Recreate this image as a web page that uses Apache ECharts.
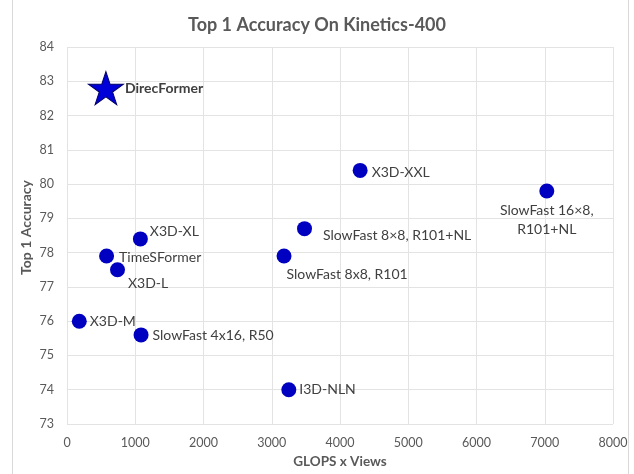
<!DOCTYPE html>
<html>
<head>
<meta charset="utf-8">
<script src="https://cdn.jsdelivr.net/npm/echarts@6/dist/echarts.min.js"></script>
<style>
  html, body { margin: 0; padding: 0; background: #fff; }
  #chart { width: 634px; height: 474px; }
</style>
</head>
<body>
<div id="chart"></div>
<script>
  // model names and their (GFLOPs x views, top-1 accuracy)
  var names = ['X3D-M', 'TimeSFormer', 'X3D-L', 'X3D-XL', 'SlowFast 4x16, R50',
    'SlowFast 8x8, R101', 'SlowFast 8×8, R101+NL', 'X3D-XXL', 'SlowFast 16×8,\nR101+NL', 'I3D-NLN']
  var flops = [180, 580, 740, 1075, 1085, 3180, 3480, 4295, 7030, 3250]
  var acc = [76.0, 77.9, 77.5, 78.4, 75.6, 77.9, 78.7, 80.4, 79.8, 74.0]

  var oursName = 'DirecFormer'
  var oursFlops = 570
  var oursAcc = 82.8

  var xTicks = [0, 8000, 1000]
  var yTicks = [73, 84, 1]

  // where each label sits next to its dot
  var labelLayout = {
    'X3D-M': { distance: 3, offset: [0, 0] },
    'TimeSFormer': { distance: 5, offset: [0, 1] },
    'X3D-L': { distance: 3, offset: [0, 14] },
    'X3D-XL': { distance: 2, offset: [0, -7] },
    'SlowFast 4x16, R50': { distance: 4, offset: [0, 1] },
    'SlowFast 8x8, R101': { distance: 0, offset: [-5, 18] },
    'SlowFast 8×8, R101+NL': { distance: 11, offset: [0, 7] },
    'X3D-XXL': { distance: 4, offset: [0, 2] },
    'SlowFast 16×8,\nR101+NL': { position: 'bottom', distance: 3, offset: [0, 0] },
    'I3D-NLN': { distance: 3, offset: [0, 0] }
  }

  var myChart = echarts.init(document.getElementById('chart'))

  var pts = names.map(function (n, i) {
    var lay = labelLayout[n]
    return {
      name: n,
      value: [flops[i], acc[i]],
      label: {
        position: lay.position || 'right',
        distance: lay.distance,
        offset: lay.offset,
        align: lay.position == 'bottom' ? 'center' : 'left'
      }
    }
  })

  var option = {
    animation: false,
    textStyle: { fontFamily: 'Lato' },
    title: {
      text: 'Top 1 Accuracy On Kinetics-400',
      left: 'center',
      top: 11,
      textStyle: { fontFamily: 'Lato', fontSize: 18, fontWeight: 'bold', color: '#595959' }
    },
    grid: { left: 67, right: 21, top: 47, bottom: 49 },
    xAxis: {
      type: 'value',
      min: xTicks[0],
      max: xTicks[1],
      interval: xTicks[2],
      name: 'GLOPS x Views',
      nameLocation: 'middle',
      nameGap: 31,
      nameTextStyle: { fontFamily: 'Lato', fontSize: 13.5, fontWeight: 'bold', color: '#595959' },
      axisLine: { show: false },
      axisTick: { show: false },
      axisLabel: { color: '#595959', fontSize: 12.5, margin: 12, formatter: function (v) { return String(v) } },
      splitLine: { lineStyle: { color: '#e3e3e3' } }
    },
    yAxis: {
      type: 'value',
      min: yTicks[0],
      max: yTicks[1],
      interval: yTicks[2],
      name: 'Top 1 Accuracy',
      nameLocation: 'middle',
      nameGap: 34,
      nameMoveOverlap: false,
      nameTextStyle: { fontFamily: 'Lato', fontSize: 14, fontWeight: 'bold', color: '#595959', padding: [0, 0, 0, 16] },
      axisLine: { show: false },
      axisTick: { show: false },
      axisLabel: { color: '#595959', fontSize: 12.5, margin: 13 },
      splitLine: { lineStyle: { color: '#e3e3e3' } }
    },
    graphic: [
      { type: 'line', shape: { x1: 12.5, y1: 0, x2: 12.5, y2: 474 }, style: { stroke: '#d9d9d9', lineWidth: 1 } },
      { type: 'line', shape: { x1: 628.5, y1: 0, x2: 628.5, y2: 474 }, style: { stroke: '#d9d9d9', lineWidth: 1 } }
    ],
    series: [
      {
        type: 'scatter',
        symbol: 'circle',
        symbolSize: 15,
        itemStyle: { color: '#0000c0', opacity: 1 },
        label: {
          show: true,
          formatter: '{b}',
          color: '#404040',
          fontSize: 14,
          lineHeight: 19
        },
        data: pts
      },
      {
        type: 'scatter',
        symbol: 'path://M50,0 L61.8,36.2 L100,36.2 L69.1,58.8 L80.9,95.1 L50,72.7 L19.1,95.1 L30.9,58.8 L0,36.2 L38.2,36.2 Z',
        symbolSize: [35, 33],
        itemStyle: { color: '#0000d8', borderColor: '#00006a', borderWidth: 1, opacity: 1 },
        label: {
          show: true,
          formatter: '{b}',
          position: 'right',
          distance: 1,
          color: '#404040',
          fontSize: 14,
          fontWeight: 'bold'
        },
        data: [{ name: oursName, value: [oursFlops, oursAcc] }]
      }
    ]
  }

  myChart.setOption(option)
</script>
</body>
</html>
